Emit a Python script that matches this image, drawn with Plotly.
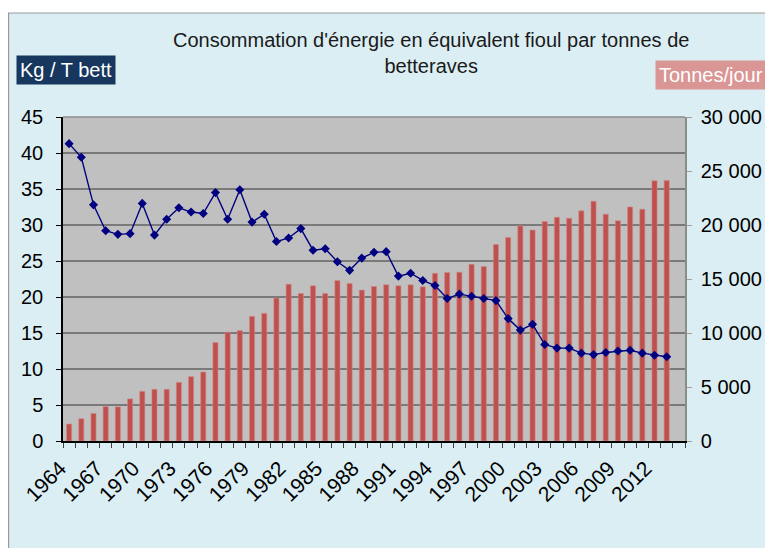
import plotly.graph_objects as go

years = list(range(1964, 2014))
kg_per_t = [41.3, 39.4, 32.8, 29.2, 28.7, 28.8, 33.0, 28.6, 30.8, 32.4, 31.8, 31.6, 34.5,
            30.8, 34.9, 30.4, 31.5, 27.7, 28.2, 29.5, 26.5, 26.7, 24.9, 23.7, 25.4, 26.2,
            26.3, 22.9, 23.3, 22.3, 21.6, 19.8, 20.4, 20.1, 19.8, 19.5, 17.0, 15.4,
            16.2, 13.4, 12.9, 12.9, 12.2, 12.0, 12.3, 12.5, 12.6, 12.2, 11.9, 11.7]
tonnes_jour = [1570, 2060, 2550, 3190, 3160, 3900, 4600, 4790, 4790, 5430, 5960, 6390, 9120,
               10070, 10220, 11540, 11820, 13230, 14520, 13660, 14370, 13660, 14860, 14580, 13970, 14310,
               14460, 14370, 14460, 14280, 15530, 15600, 15630, 16360, 16150, 18200, 18850, 19920,
               19530, 20320, 20720, 20630, 21310, 22200, 21000, 20390, 21670, 21460, 24100, 24130]
x_tick_years = list(range(1964, 2013, 3))
left_ticks = list(range(0, 46, 5))
right_ticks = list(range(0, 30001, 5000))

title_text = "Consommation d'énergie en équivalent fioul par tonnes de<br>betteraves"
FONT = "Liberation Sans, Arial, sans-serif"

# page has an 8px body margin; work in page coordinates and shift
OFF = 8
W, H = 773 - OFF, 548 - OFF
L, R, T, B = 63 - OFF, 685 - OFF, 117 - OFF, 441 - OFF


def px(x):  # page x -> paper
    return (x - OFF - L) / (R - L)


def py(y):  # page y -> paper
    return (B - (y - OFF)) / (B - T)


fig = go.Figure()
fig.add_trace(go.Bar(
    x=years, y=tonnes_jour, yaxis="y",
    marker=dict(color="#C0504D", line=dict(color="#D08A88", width=0.6)),
    width=0.42, name="Tonnes/jour", showlegend=False,
))
fig.add_trace(go.Scatter(
    x=years, y=kg_per_t, yaxis="y2", mode="lines+markers",
    line=dict(color="#000080", width=1.4),
    marker=dict(symbol="diamond", size=7, color="#000080"),
    name="Kg / T bett", showlegend=False,
))

fig.update_layout(
    width=W, height=H,
    margin=dict(l=L, r=W - R, t=T, b=H - B),
    paper_bgcolor="#DBEEF4",
    plot_bgcolor="#C0C0C0",
    separators=", ",
    font=dict(family=FONT, size=20, color="#000000"),
    bargap=0.6,
    xaxis=dict(
        range=[1963.5, 2014.5], tickmode="array", tickvals=x_tick_years,
        ticktext=[str(y) for y in x_tick_years], tickangle=-45,
        ticks="", showgrid=False, zeroline=False,
        showline=True, linecolor="#000000", linewidth=1.5,
        tickfont=dict(family=FONT, size=21),
        ticklabelshift=-9, ticklabelstandoff=5,
        minor=dict(ticks="outside", tick0=1963.5, dtick=1, ticklen=5,
                   tickcolor="#404040", showgrid=False),
    ),
    yaxis=dict(
        side="right", range=[0, 30000], tickmode="array", tickvals=right_ticks,
        tickformat=",d", showgrid=False, zeroline=False,
        showline=True, linecolor="#8C8C8C", linewidth=1.5,
        ticks="outside", ticklen=5, tickcolor="#A0A0A0",
        ticklabelstandoff=5,
        tickfont=dict(family=FONT, size=20),
    ),
    yaxis2=dict(
        overlaying="y", side="left", range=[0, 45], tickmode="array", tickvals=left_ticks,
        showgrid=True, gridcolor="#7A7A7A", gridwidth=1.5, zeroline=False,
        showline=True, linecolor="#000000", linewidth=1.5,
        ticks="outside", ticklen=5, tickcolor="#000000",
        ticklabelstandoff=9,
        tickfont=dict(family=FONT, size=20),
    ),
    shapes=[
        dict(type="line", xref="paper", yref="paper", x0=0, x1=1, y0=1, y1=1,
             line=dict(color="#8C8C8C", width=1.5)),
        dict(type="rect", xref="paper", yref="paper", x0=px(0), x1=px(800), y0=py(0), y1=py(13),
             fillcolor="#FFFFFF", line=dict(width=0)),
        dict(type="line", xref="paper", yref="paper", x0=px(OFF), x1=px(800), y0=py(13), y1=py(13),
             line=dict(color="#9A9A9A", width=1.2)),
        dict(type="line", xref="paper", yref="paper", x0=px(OFF + 0.6), x1=px(OFF + 0.6), y0=py(13), y1=py(560),
             line=dict(color="#9A9A9A", width=1.2)),
    ],
    annotations=[
        dict(text=title_text, xref="paper", yref="paper", x=px(431), y=py(53),
             xanchor="center", yanchor="middle", showarrow=False,
             font=dict(family=FONT, size=20, color="#1A1A1A")),
        dict(text="Kg / T bett", xref="paper", yref="paper", x=px(66), y=py(70),
             xanchor="center", yanchor="middle", showarrow=False,
             bgcolor="#17375E", borderpad=3,
             font=dict(family=FONT, size=20, color="#FFFFFF")),
        dict(text="Tonnes/jour", xref="paper", yref="paper", x=px(711), y=py(75),
             xanchor="center", yanchor="middle", showarrow=False,
             bgcolor="#D99694", borderpad=3,
             font=dict(family=FONT, size=20, color="#FFFFFF")),
    ],
)

fig.write_html("out.html")
